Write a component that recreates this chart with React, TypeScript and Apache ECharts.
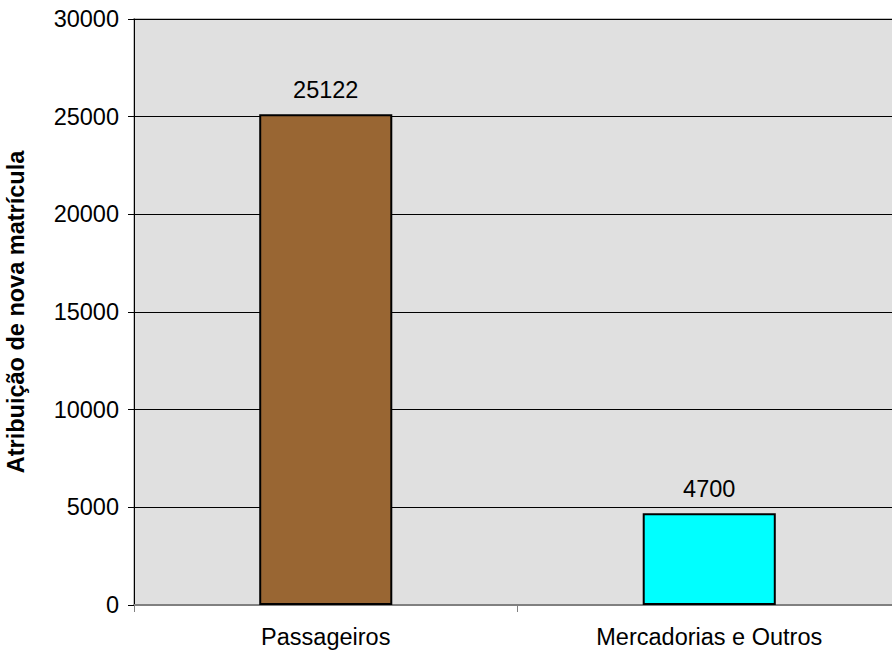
import React, { useEffect, useRef } from "react";
import * as echarts from "echarts";

const categories = ["Passageiros", "Mercadorias e Outros"];
const values = [25122, 4700];
const barColors = ["#996633", "#00FFFF"];
const yTicks = { min: 0, max: 30000, interval: 5000 };
const yAxisTitle = "Atribuição de nova matrícula";

const FONT = "Liberation Sans, Arial, sans-serif";

export default function App() {
  const ref = useRef<HTMLDivElement>(null);
  useEffect(() => {
    if (!ref.current) return;
    const chart = echarts.init(ref.current, null, { renderer: "svg" });
    chart.setOption({
      animation: false,
      grid: {
        left: 134,
        right: -9,
        top: 19,
        bottom: 51,
        containLabel: false,
        outerBoundsMode: "none",
        show: true,
        backgroundColor: "#e0e0e0",
        borderColor: "#c0c0c0",
        borderWidth: 2,
      },
      xAxis: {
        type: "category",
        data: categories,
        axisLine: { lineStyle: { color: "#808080", width: 2 } },
        axisTick: { show: true, length: 7, lineStyle: { color: "#808080" } },
        axisLabel: {
          color: "#000",
          fontSize: 23.5,
          fontFamily: FONT,
          margin: 20,
        },
      },
      yAxis: {
        type: "value",
        min: yTicks.min,
        max: yTicks.max,
        interval: yTicks.interval,
        name: yAxisTitle,
        nameLocation: "middle",
        nameGap: 106,
        nameTextStyle: {
          color: "#000",
          fontSize: 23.5,
          fontWeight: "bold",
          fontFamily: FONT,
        },
        axisLine: { show: true, lineStyle: { color: "#000", width: 1 } },
        axisTick: { show: true, length: 6, lineStyle: { color: "#000" } },
        axisLabel: {
          color: "#000",
          fontSize: 23.5,
          fontFamily: FONT,
          margin: 15,
          formatter: (v: number) => String(v),
        },
        splitLine: { show: true, lineStyle: { color: "#000", width: 1 } },
      },
      series: [
        {
          type: "bar",
          barWidth: "34.7%",
          data: values.map((v, i) => ({
            value: v,
            itemStyle: { color: barColors[i] },
          })),
          itemStyle: { borderColor: "#000", borderWidth: 2 },
          label: {
            show: true,
            position: "top",
            distance: 12,
            color: "#000",
            fontSize: 23.5,
            fontFamily: FONT,
          },
        },
      ],
    });
    return () => chart.dispose();
  }, []);
  return (
    <div
      ref={ref}
      style={{ position: "absolute", left: 0, top: 0, width: 892, height: 656 }}
    />
  );
}
